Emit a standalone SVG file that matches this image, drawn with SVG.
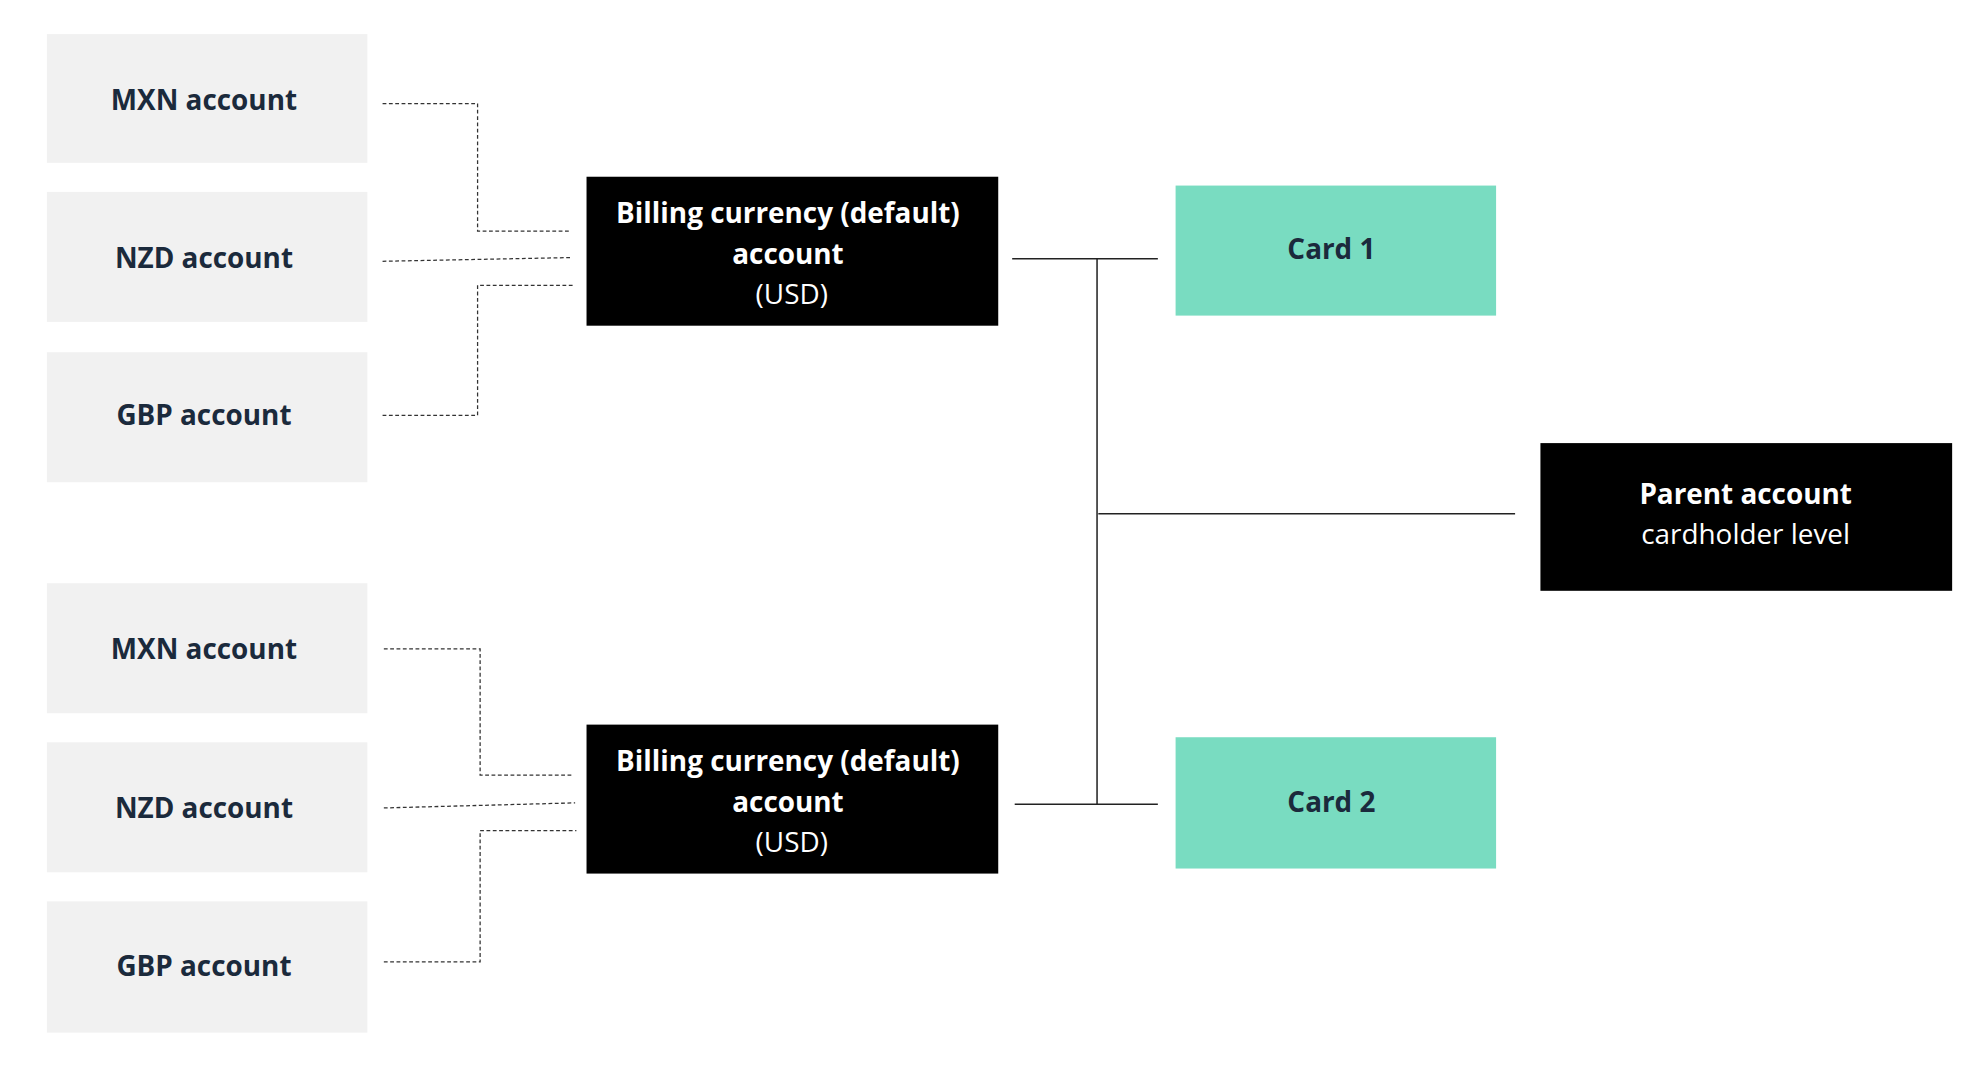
<svg xmlns="http://www.w3.org/2000/svg" width="1966" height="1073" viewBox="0 0 1966 1073">
<style>
.g{fill:#f1f1f1}
.k{fill:#000}
.c{fill:#79dcc1}
text{font-family:"Open Sans","Liberation Sans",sans-serif;font-size:22px;text-anchor:middle}
.b{font-weight:bold}
.d{fill:#1b2a3c}
.w{fill:#fff}
.dash{fill:none;stroke:#333;stroke-width:1;stroke-dasharray:3 2}
.sol{fill:none;stroke:#222;stroke-width:1.2}
</style>
<rect width="1966" height="1073" fill="#fff"/>
<g transform="scale(1.2668 1.2624)">
<g id="connectors">
<polyline class="dash" points="302,82 377,82 377,183 451,183"/>
<polyline class="dash" points="302,207 451,204"/>
<polyline class="dash" points="302,329 377,329 377,226 453,226"/>
<polyline class="dash" points="303,514 379,514 379,614 452,614"/>
<polyline class="dash" points="303,640 454,636"/>
<polyline class="dash" points="303,762 379,762 379,658 455,658"/>
<polyline class="sol" points="799,205 914,205"/>
<polyline class="sol" points="866,205 866,637"/>
<polyline class="sol" points="801,637 914,637"/>
<polyline class="sol" points="867,407 1196,407"/>
</g>
<g id="mxn1"><rect class="g" x="37" y="27" width="253" height="102"/><text class="b d" x="161" y="87">MXN account</text></g>
<g id="nzd1"><rect class="g" x="37" y="152" width="253" height="103"/><text class="b d" x="161" y="212">NZD account</text></g>
<g id="gbp1"><rect class="g" x="37" y="279" width="253" height="103"/><text class="b d" x="161" y="337">GBP account</text></g>
<g id="mxn2"><rect class="g" x="37" y="462" width="253" height="103"/><text class="b d" x="161" y="522">MXN account</text></g>
<g id="nzd2"><rect class="g" x="37" y="588" width="253" height="103"/><text class="b d" x="161" y="648">NZD account</text></g>
<g id="gbp2"><rect class="g" x="37" y="714" width="253" height="104"/><text class="b d" x="161" y="773">GBP account</text></g>
<g id="billing1"><rect class="k" x="463" y="140" width="325" height="118"/>
<text class="b w" x="622" y="177">Billing currency (default)</text>
<text class="b w" x="622" y="209">account</text>
<text class="w" x="625" y="241">(USD)</text></g>
<g id="billing2"><rect class="k" x="463" y="574" width="325" height="118"/>
<text class="b w" x="622" y="611">Billing currency (default)</text>
<text class="b w" x="622" y="643">account</text>
<text class="w" x="625" y="675">(USD)</text></g>
<g id="card1"><rect class="c" x="928" y="147" width="253" height="103"/><text class="b d" x="1051" y="205">Card 1</text></g>
<g id="card2"><rect class="c" x="928" y="584" width="253" height="104"/><text class="b d" x="1051" y="643">Card 2</text></g>
<g id="parent"><rect class="k" x="1216" y="351" width="325" height="117"/>
<text class="b w" x="1378" y="399">Parent account</text>
<text class="w" x="1378" y="431">cardholder level</text></g>
</g>
</svg>
